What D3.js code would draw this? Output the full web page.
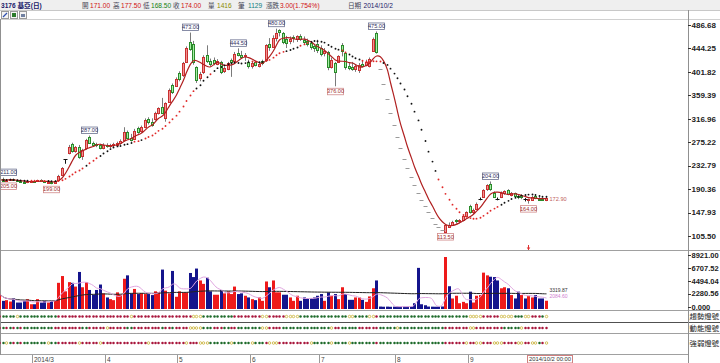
<!DOCTYPE html>
<html><head><meta charset="utf-8">
<script src="https://cdn.jsdelivr.net/npm/d3@7"></script>
<style>
body{margin:0;background:#fff;}
svg{display:block;font-family:"Liberation Sans",Arial,sans-serif;}
</style></head><body>
<svg id="c" width="720" height="363"></svg>
<script>
// ---------------- DATA ----------------
const open = [206,209,206,207,208,206,204,203,202.5,204,
205,204,206.5,204,202.5,203,201,206,216,244,
256,271,258,267,250,264,284,274,271,270,
264,270,268,270,271,274,279,293,283,282,
300,294,302,316,311,317,327,338,318,348,
378,377,400,396,420,456,453,411,390,400,
432,421,424,416,420,404,408,424,422,436,
433,430,420,412,420,414,422,423,452,448,
464,477,472,462,458,465,460,466,460,458,
454,448,452,446,436,438,412,418,420,450,
436,412,410,406,406,416,414,413,441,472,
408,379.5,353,328.5,305.5,284,264,245.5,228.5,212.5,
197.5,184,171,159,148,137.5,128,122,117,114,
121,126,134,132,134,141,159,148,155,173,
176,190,199,184,173,176,182,188,180,183,
177,180,172,170,171,177,173,172,171];
const high = [208,211,208,209,209.5,207,205.5,204.5,205,206,
207,207,208,205,204,204.5,206,216,230,244,
270,274,268,270,263,281,287,276,274,272,
273,273,272,274,276,280,302,296,290,299,
303,305,318,320,318,330,338,355,347,372,
381,392,403,420,448,473,458,412,402,432,
450,426,428,425,422,412,420,426,438,444.5,
440,436,424,420,422,420,424,452,463,468,
480,479,474,467,466,468,468,470,466,462,
458,452,460,450,445,440,428,420,432,454,
438,418,420,416,418,422,424,428,464,475,
408,379.5,353,328.5,305.5,284,264,245.5,228.5,212.5,
197.5,184,171,159,148,137.5,128,122,117,127,
130,133,136,136,144,150,162,155,166,175,
190,199,204,186,175,186,188,190,185,184,
180,181,174,173,178,180,176,175,177.5];
const low = [205,205.5,204.5,205,205,203,201.5,201,201,202,
203,203,203.5,201.5,200.5,199,200.5,205,214,236,
253,256,256,245,243,262,272,268,266,262,
262,265,264,266,268,270,276,280,276,281,
290,292,300,307,303,314,325,326,312,346,
362,375,385,393,418,440,415,382,385,398,
418,412,414,414,398,400,405,393,418,430,
426,422,408,408,412,410,414,420,440,446,
457,466,452,445,452,455,456,458,452,448,
442,438,436,430,430,405,408,376,418,430,
406,405,404,402,400,410,412,410,438,435,
408,379.5,353,328.5,305.5,284,264,245.5,228.5,212.5,
197.5,184,171,159,148,137.5,128,122,117,113.5,
120,124,128,128,132,140,146,145,153,170,
175,187,187,175,170,174,180,179,177,175,
172,172,168,164,169,172,170,169.5,168.5];
const close = [207,206,207,208,206,204,203,202.5,204,205,
204,206.5,204,202.5,203.5,201,205,214,228,244,
266,258,266,249,260,279,274,271,270,264,
270,268,270,271,274,277,293,282,280,296,
293,302,315,310,306,327,336,328,345,369,
366,389,390,418,445,443,420,388,398,428,
421,416,418,422,402,409,418,420,434,432,
430,432,412,418,414,417,419,450,447,464,
473,474,456,454,462,463,466,460,456,452,
446,444,441,436,440,410,424,402,430,440,
410,408,406,412,415,413,420,425,462,438,
408,379.5,353,328.5,305.5,284,264,245.5,228.5,212.5,
197.5,184,171,159,148,137.5,128,122,117,126,
125,131,132,134,141,148,147.5,152,164,173,
188,197,190,176,173,184,186,181,183,177,
175,176.5,172,172.5,176,173,171.5,171,174];
const volume = [2565,1400,1515,1283,1807,1108,1108,1400,1690,816,
816,1690,1108,1400,1108,1400,1515,4490,5655,3032,
4606,4490,3848,6355,3731,4606,3265,2449,3265,4198,
2682,1982,1690,1515,2857,2449,5189,5772,2682,3440,
2565,2740,2565,2565,2390,3032,2857,6763,3148,2682,
6530,2099,3032,2857,2857,6180,5480,6938,4897,4314,
5364,3032,2449,2449,3265,2682,3032,2565,3848,2565,
2682,2274,1982,1690,1515,1982,1400,4722,3731,4897,
2857,2857,2449,2449,1982,1400,2274,1400,1982,1807,
1807,1982,2274,2565,1400,2857,2274,2565,1690,3731,
2565,1574,1574,1982,1982,1574,1225,2157,3557,4897,
420,390,410,380,400,430,390,410,400,420,
990,7055,816,641,420,400,390,410,430,8921,
3906,1807,2274,990,1225,990,2974,1108,2274,2390,
6238,5772,5539,5480,4897,3557,3731,3557,2390,1807,
2974,2390,1807,2274,1982,2390,1807,1807,1416];

const monthLabels = ["2014/3","4","5","6","7","8","9"];
const monthStart  = [10,31,52,73,93,115,136];
const priceTicks = [486.68,444.25,401.82,359.39,316.96,275.22,232.79,190.36,147.93,105.50];
const volTicks   = [8921.00,6707.52,4494.04,2280.56,0];
const volTickText = ["8921.00","6707.52","4494.04","2280.56","0.000"];
const hiLabels = [{i:1,v:211.00},{i:26,v:287.00},{i:55,v:473.00},{i:69,v:444.50},{i:80,v:480.00},{i:109,v:475.00},{i:142,v:204.00}];
const loLabels = [{i:0,v:205.00},{i:15,v:199.00},{i:97,v:376.00},{i:129,v:113.50},{i:153,v:164.00}];
const lastMaText = "172.90";
const volMaTexts = ["3319.87","2084.60"];
const signalIdx = [153];
const lightRows = [
 "RGGGGYGGGG"+"GGGGGGGRRR"+"RRRRRRRRRR"+"RRRRRRRRYR"+"RRRRRRRRRR"+"RRRRRRYYYG"+"GGGGGGGGRR"+"RRRRRRYYRR"+"RRRYYYYGGG"+"GGGGGGGGGG"+"GYYGGGGYYR"+"GGGGGGGGGG"+"GGGGGGGGGG"+"GGGGGGYYYY"+"RRRRRYYYYG"+"GGYYRRRGY",
 "RGRGRGRGGG"+"GGGGGGRRRR"+"RRRRGGRRRR"+"RYRRRRRGGR"+"RRRRRRRGRR"+"GRRRRYYYYG"+"GGRRRGGRRG"+"GGGGGGYYRR"+"RRGGGGGGGG"+"GGGGGGYRRG"+"GGGGRRRRRR"+"GGGGGYGGGG"+"GGGGGGGGGR"+"RRRRRRYYRR"+"RRRRRRGGGG"+"GYRRRRRRR",
 "RGYGRGRGGG"+"GGGGYGGRRR"+"RRRYRRRRRY"+"RRRRRRRRRR"+"RRRYRRRRRR"+"RRRRYRRRYY"+"YGGGGGGYGG"+"GGGYGGGRYY"+"YRRRRRRRRR"+"YGGGGGYGGG"+"GYGGGGGGGR"+"GGGGGGGGGG"+"GGGGGGGGGR"+"RRRRRYRRYY"+"RRRYYYRRRR"+"YYRRYYGRY"
];
const lightNames = ["趨勢燈號","動能燈號","強弱燈號"];

// ---------------- SCALES ----------------
const N = close.length;
const idx = d3.range(N);
const svg = d3.select("#c");
const x = d3.scaleBand().domain(idx).range([-1.6, 548.1]);
const px = i => Math.round(x(i));
const cx = i => px(i) + 1.5;
const yP = d3.scaleLinear().domain([105.5, 486.68]).range([236, 25]);
const yV = d3.scaleLinear().domain([0, 8921]).range([309, 257]);

const ma = (arr, n) => arr.map((_, i) => d3.mean(arr.slice(Math.max(0, i - n + 1), i + 1)));
const m5 = ma(close, 5), m15 = ma(close, 15);
const v5 = ma(volume, 5), vL = ma(volume, 120);

// ---------------- FRAME ----------------
svg.append("rect").attr("x",0).attr("y",0).attr("width",720).attr("height",10).attr("fill","#efefef");
const hl = (y, col, x2=720) => svg.append("line").attr("x1",0).attr("x2",x2).attr("y1",y).attr("y2",y).attr("stroke",col).attr("stroke-width",1);
hl(10.5,"#c8c8c8"); hl(19.5,"#d0d0d0");
hl(250.5,"#a0a0a0"); hl(310.5,"#a0a0a0"); hl(322.5,"#505050"); hl(333.5,"#a0a0a0"); hl(354.5,"#a0a0a0",688);
svg.append("line").attr("x1",688.5).attr("x2",688.5).attr("y1",10).attr("y2",363).attr("stroke","#909090");
svg.append("line").attr("x1",0.5).attr("x2",0.5).attr("y1",19).attr("y2",355).attr("stroke","#909090");

// header
const header = [
 {t:"3176 基亞(日)", x:1, c:"#1a1a6a", w:"bold"},
 {t:"開", x:82, c:"#445"}, {t:"171.00", x:90, c:"#d01010"},
 {t:"高", x:113, c:"#445"}, {t:"177.50", x:121, c:"#d01010"},
 {t:"低", x:143, c:"#445"}, {t:"168.50", x:151, c:"#108010"},
 {t:"收", x:173, c:"#445"}, {t:"174.00", x:181, c:"#d01010"},
 {t:"量", x:208, c:"#445"}, {t:"1416", x:217, c:"#8a8a00"},
 {t:"筆", x:238, c:"#445"}, {t:"1129", x:248, c:"#108080"},
 {t:"漲跌", x:266, c:"#445"}, {t:"3.00(1.754%)", x:280, c:"#d01010"},
 {t:"日期", x:348, c:"#445"}, {t:"2014/10/2", x:363.5, c:"#1a1a6a"}
];
svg.append("g").selectAll("text").data(header).join("text")
 .attr("x",d=>d.x).attr("y",7.6).attr("font-size",6.6).attr("font-weight",d=>d.w||"normal")
 .attr("font-family",'"Liberation Sans","Noto Sans CJK TC",sans-serif')
 .attr("fill",d=>d.c).text(d=>d.t);
// toolbar icons
[1,10,19].forEach(ix=>{
  svg.append("rect").attr("x",ix+0.5).attr("y",11.5).attr("width",7).attr("height",7).attr("fill","#f4f4f4").attr("stroke","#9a9a9a");
});
svg.append("line").attr("x1",3).attr("y1",17).attr("x2",7).attr("y2",13).attr("stroke","#3050b0").attr("stroke-width",1.3);
svg.append("rect").attr("x",12).attr("y",13).attr("width",4).attr("height",4).attr("fill","#2a7a2a");
svg.append("rect").attr("x",21).attr("y",14).attr("width",4).attr("height",3).attr("fill","#7080a0");

// ---------------- PRICE PANEL ----------------
svg.append("defs").append("clipPath").attr("id","pc").append("rect").attr("x",1).attr("y",20).attr("width",687).attr("height",230);
const gp = svg.append("g").attr("clip-path","url(#pc)");

const upFill="#f29090", upStroke="#c83030", dnFill="#a6eea6", dnStroke="#2a8a2a";
const flat = i => open[i]===close[i];
const dash = i => high[i]===low[i];

gp.append("g").selectAll("line").data(idx.filter(i=>!dash(i))).join("line")
 .attr("x1",i=>cx(i)).attr("x2",i=>cx(i))
 .attr("y1",i=>yP(high[i])).attr("y2",i=>yP(low[i]))
 .attr("stroke",i=>flat(i)?"#111":"#7a7a7a").attr("stroke-width",1);
gp.append("g").selectAll("rect").data(idx.filter(i=>!flat(i))).join("rect")
 .attr("x",i=>px(i)+0.5)
 .attr("y",i=>Math.round(yP(Math.max(open[i],close[i])))+0.5)
 .attr("width",2)
 .attr("height",i=>Math.max(1,Math.round(Math.abs(yP(open[i])-yP(close[i])))))
 .attr("fill",i=>close[i]>open[i]?upFill:dnFill)
 .attr("stroke",i=>close[i]>open[i]?upStroke:dnStroke);
gp.append("g").selectAll("line").data(idx.filter(i=>flat(i))).join("line")
 .attr("x1",i=>px(i)-0.5).attr("x2",i=>px(i)+3.5)
 .attr("y1",i=>Math.round(yP(close[i]))+0.5).attr("y2",i=>Math.round(yP(close[i]))+0.5)
 .attr("stroke",i=>dash(i)?"#9a9a9a":"#111").attr("stroke-width",1);

gp.append("path").datum(idx)
 .attr("d",d3.line().x(i=>cx(i)).y(i=>yP(m5[i])).curve(d3.curveBasis))
 .attr("fill","none").attr("stroke","#b02020").attr("stroke-width",1.2);
const acc = i => i<6 ? -1 : (m15[i]-m15[i-3]) - (m15[i-3]-m15[i-6]);
gp.append("g").selectAll("circle").data(idx).join("circle")
 .attr("cx",i=>cx(i)).attr("cy",i=>yP(m15[i])).attr("r",0.95)
 .attr("fill",i=>acc(i)>0?"#e02828":"#111");

const lab = (d, hi) => {
  const w=16, h=6.5;
  let xc = Math.max(w/2+0.5, cx(d.i));
  const y0 = hi ? yP(d.v)-2-h : yP(d.v)+2;
  const g = gp.append("g");
  g.append("rect").attr("x",xc-w/2).attr("y",y0).attr("width",w).attr("height",h)
   .attr("fill","#fff").attr("stroke",hi?"#6a7090":"#d08a8a").attr("stroke-width",0.8);
  g.append("text").attr("x",xc).attr("y",y0+h-1.3).attr("text-anchor","middle")
   .attr("font-size",5.6).attr("fill",hi?"#303060":"#a03030").text(d.v.toFixed(2));
};
hiLabels.forEach(d=>lab(d,true));
loLabels.forEach(d=>lab(d,false));
gp.append("text").attr("x",cx(N-1)+3).attr("y",yP(+lastMaText)+2).attr("font-size",5.6)
 .attr("fill","#c06060").text(lastMaText);

signalIdx.forEach(i=>{
  svg.append("line").attr("x1",cx(i)).attr("x2",cx(i)).attr("y1",245).attr("y2",250).attr("stroke","#e03030");
  svg.append("path").attr("d",`M${cx(i)-1.8},247.5 L${cx(i)+1.8},247.5 L${cx(i)},250 Z`).attr("fill","#e03030");
});

// price axis
const ga = svg.append("g");
ga.selectAll("line").data(priceTicks).join("line")
 .attr("x1",688).attr("x2",691).attr("y1",d=>Math.round(yP(d))+0.5).attr("y2",d=>Math.round(yP(d))+0.5).attr("stroke","#333");
ga.selectAll("text").data(priceTicks).join("text")
 .attr("x",691.5).attr("y",d=>yP(d)+2.9).attr("font-size",8).attr("font-weight","bold")
 .attr("fill","#222").text(d=>d.toFixed(2));

// ---------------- VOLUME PANEL ----------------
const volUp = i => i===0 ? close[0]>=open[0] : close[i]>=close[i-1];
svg.append("g").selectAll("rect").data(idx).join("rect")
 .attr("x",i=>px(i)).attr("width",3)
 .attr("y",i=>yV(volume[i])).attr("height",i=>yV(0)-yV(volume[i]))
 .attr("fill",i=>volUp(i)?"#ee1a1a":"#14148c");
svg.append("path").datum(idx)
 .attr("d",d3.line().x(i=>cx(i)).y(i=>yV(vL[i])).curve(d3.curveBasis))
 .attr("fill","none").attr("stroke","#222").attr("stroke-width",1);
svg.append("path").datum(idx)
 .attr("d",d3.line().x(i=>cx(i)).y(i=>yV(v5[i])).curve(d3.curveBasis))
 .attr("fill","none").attr("stroke","#e0a6e0").attr("stroke-width",1);
svg.append("text").attr("x",cx(N-1)+3).attr("y",292).attr("font-size",5).attr("fill","#333").text(volMaTexts[0]);
svg.append("text").attr("x",cx(N-1)+3).attr("y",297.5).attr("font-size",5).attr("fill","#d080d0").text(volMaTexts[1]);
const gv = svg.append("g");
gv.selectAll("line").data(volTicks).join("line")
 .attr("x1",688).attr("x2",691).attr("y1",d=>Math.round(yV(d))-1.5).attr("y2",d=>Math.round(yV(d))-1.5).attr("stroke","#333");
gv.selectAll("text").data(volTicks).join("text")
 .attr("x",691.5).attr("y",d=>yV(d)+0.7).attr("font-size",7.5).attr("font-weight","bold")
 .attr("fill","#222").text((d,k)=>volTickText[k]);

// ---------------- LIGHT ROWS ----------------
const rowY = [316.5, 328, 343];
const colR = "#a8163c", colG = "#1e6a2a", colY = "#c8b032";
lightRows.forEach((s, r) => {
  const codes = s.split("");
  svg.append("g").selectAll("circle").data(idx).join("circle")
   .attr("cx",i=>cx(i)).attr("cy",rowY[r]).attr("r",1.25)
   .attr("fill",i=>codes[i]==="Y"?"#fff":(codes[i]==="R"?colR:colG))
   .attr("stroke",i=>codes[i]==="Y"?colY:"none").attr("stroke-width",0.8);
  svg.append("text").attr("x",689.5).attr("y",rowY[r]+2.8).attr("font-size",7.4)
   .attr("font-family",'"Noto Sans CJK TC",sans-serif').attr("fill","#222").text(lightNames[r]);
});

// ---------------- X AXIS ----------------
const gx = svg.append("g");
gx.selectAll("line").data(monthStart).join("line")
 .attr("x1",i=>px(i)-0.5).attr("x2",i=>px(i)-0.5).attr("y1",355).attr("y2",363).attr("stroke","#9a9a9a");
gx.selectAll("text").data(monthStart).join("text")
 .attr("x",i=>px(i)+1).attr("y",361.5).attr("font-size",6.5).attr("fill","#444")
 .text((i,k)=>monthLabels[k]);
svg.append("rect").attr("x",527.5).attr("y",355.5).attr("width",45).attr("height",7.5)
 .attr("fill","#fff").attr("stroke","#d08080");
svg.append("text").attr("x",550).attr("y",361.3).attr("text-anchor","middle").attr("font-size",5.8)
 .attr("fill","#333").text("2014/10/2 00:00");
</script>
</body></html>
